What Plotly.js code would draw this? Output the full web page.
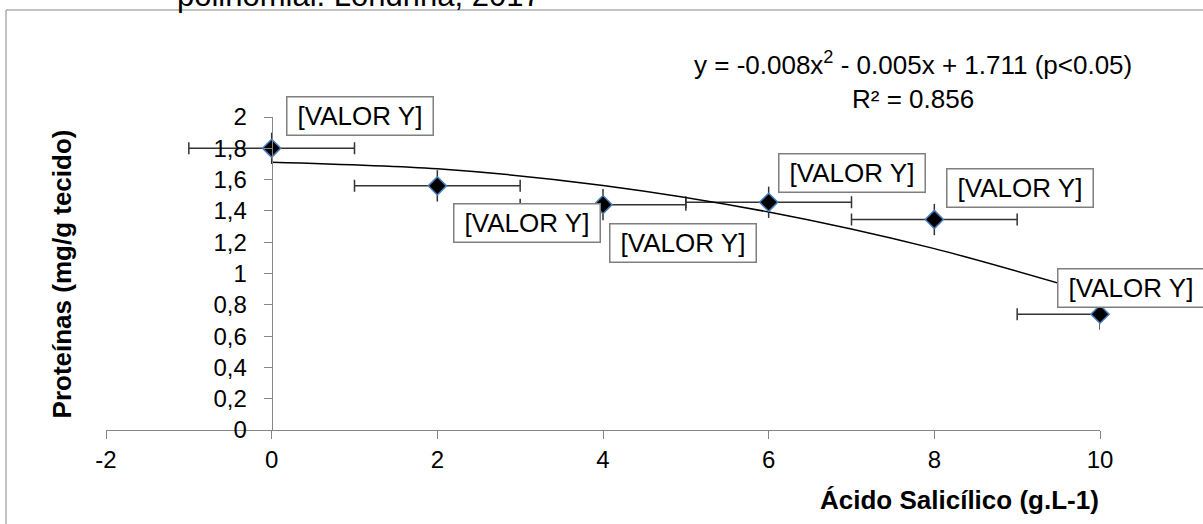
<!DOCTYPE html>
<html>
<head>
<meta charset="utf-8">
<script src="https://cdn.plot.ly/plotly-3.0.1.min.js"></script>
<style>html,body{margin:0;padding:0;background:#fff;}#chart{width:1203px;height:524px;}</style>
</head>
<body>
<div id="chart"></div>
<script>
// ---- data ----
const xs = [0, 2, 4, 6, 8, 10];
const ys = [1.80, 1.56, 1.44, 1.455, 1.345, 0.74];
const yErr = [0.1, 0.1, 0.1, 0.1, 0.1, 0.1];
const xErr = [1, 1, 1, 1, 1, 1];
const pointLabels = ['[VALOR Y]', '[VALOR Y]', '[VALOR Y]', '[VALOR Y]', '[VALOR Y]', '[VALOR Y]'];
const trendX = [0, 2, 4, 6, 8, 10];
const trendY = [1.711, 1.669, 1.563, 1.393, 1.159, 0.861];
const xTickVals = [-2, 0, 2, 4, 6, 8, 10];
const xTickText = ['-2', '0', '2', '4', '6', '8', '10'];
const yTickVals = [0, 0.2, 0.4, 0.6, 0.8, 1, 1.2, 1.4, 1.6, 1.8, 2];
const yTickText = ['0', '0,2', '0,4', '0,6', '0,8', '1', '1,2', '1,4', '1,6', '1,8', '2'];
const titleText = 'polinomial. Londrina, 2017';
const xTitle = 'Ácido Salicílico (g.L-1)';
const yTitle = 'Proteínas (mg/g tecido)';
const equationText = 'y = -0.008x<sup>2</sup> - 0.005x + 1.711 (p&lt;0.05)<br>R² = 0.856';

// ---- style (label offsets in screen pixels from each point) ----
const labelDx = [88, 90, 80, 83, 86, 31];
const labelDy = [-32, 37, 38, -29, -32, -26];

const FONT = 'Liberation Sans, Arial, sans-serif';
const AXIS_GRAY = '#868686';

const traces = [
  { // error bars (clipped to plot area)
    type: 'scatter', mode: 'markers', x: xs, y: ys,
    marker: {size: 1, color: 'rgba(0,0,0,0)'},
    error_x: {type: 'data', array: xErr, visible: true, color: '#333333', thickness: 1.5, width: 6},
    error_y: {type: 'data', array: yErr, visible: true, color: '#333333', thickness: 1.5, width: 0},
    cliponaxis: true, hoverinfo: 'skip', showlegend: false
  },
  { // trendline
    type: 'scatter', mode: 'lines', x: trendX, y: trendY,
    line: {color: '#000000', width: 1.5, shape: 'spline', smoothing: 0.8},
    hoverinfo: 'skip', showlegend: false
  },
  { // markers
    type: 'scatter', mode: 'markers', x: xs, y: ys,
    marker: {symbol: 'diamond', size: 14, color: '#000000', line: {color: '#4a7ebb', width: 1.5}},
    cliponaxis: false, showlegend: false
  }
];

const annotations = [];
for (let i = 0; i < xs.length; i++) {
  annotations.push({
    x: xs[i], y: ys[i], xref: 'x', yref: 'y',
    text: pointLabels[i], showarrow: false,
    xshift: labelDx[i], yshift: -labelDy[i],
    xanchor: 'center', yanchor: 'middle',
    width: 141, height: 33, align: 'center', valign: 'middle',
    bgcolor: '#ffffff', bordercolor: '#7f7f7f', borderwidth: 1.5, borderpad: 2,
    font: {family: FONT, size: 26, color: '#000000'}
  });
}
annotations.push({
  xref: 'paper', yref: 'paper', x: 0.8119, y: 1.118, xanchor: 'center', yanchor: 'middle',
  text: equationText, showarrow: false, align: 'center',
  font: {family: FONT, size: 26, color: '#000000'}
});
annotations.push({
  xref: 'paper', yref: 'paper', x: -0.0443, y: 0.5, xanchor: 'center', yanchor: 'middle',
  text: '<b>' + yTitle + '</b>', textangle: -90, showarrow: false,
  font: {family: FONT, size: 26, color: '#000000'}
});
annotations.push({
  xref: 'paper', yref: 'paper', x: 1, y: -0.2236, xanchor: 'right', yanchor: 'middle',
  text: '<b>' + xTitle + '</b>', showarrow: false, borderpad: 0,
  font: {family: FONT, size: 26, color: '#000000'}
});
annotations.push({
  xref: 'paper', yref: 'paper', x: 0.0694, y: 1.3272, xanchor: 'left', yanchor: 'bottom',
  text: titleText, showarrow: false,
  font: {family: FONT, size: 31, color: '#000000'}
});

const layout = {
  width: 1203, height: 524,
  margin: {l: 106, r: 103, t: 117, b: 94},
  paper_bgcolor: '#ffffff', plot_bgcolor: '#ffffff',
  showlegend: false,
  font: {family: FONT, size: 24, color: '#000000'},
  xaxis: {
    range: [-2, 10], tickmode: 'array', tickvals: xTickVals, ticktext: xTickText,
    ticks: 'outside', ticklen: 8, tickwidth: 1, tickcolor: AXIS_GRAY,
    showline: true, linecolor: AXIS_GRAY, linewidth: 1,
    showgrid: false, zeroline: false, ticklabelstandoff: 0,
    tickfont: {family: FONT, size: 24, color: '#000000'}, fixedrange: true
  },
  yaxis: {
    range: [0, 2], tickmode: 'array', tickvals: yTickVals, ticktext: yTickText,
    anchor: 'free', position: 2 / 12,
    ticks: 'outside', ticklen: 8, tickwidth: 1, tickcolor: AXIS_GRAY,
    showline: true, linecolor: AXIS_GRAY, linewidth: 1,
    showgrid: false, zeroline: false, ticklabelstandoff: 12,
    tickfont: {family: FONT, size: 24, color: '#000000'}, fixedrange: true
  },
  shapes: [{
    type: 'rect', xref: 'paper', yref: 'paper',
    x0: -0.1006, x1: 1.12, y0: -0.33, y1: 1.3419,
    line: {color: AXIS_GRAY, width: 1}, fillcolor: 'rgba(0,0,0,0)', layer: 'below'
  }],
  annotations: annotations
};

Plotly.newPlot('chart', traces, layout, {displayModeBar: false, staticPlot: true});
</script>
</body>
</html>
